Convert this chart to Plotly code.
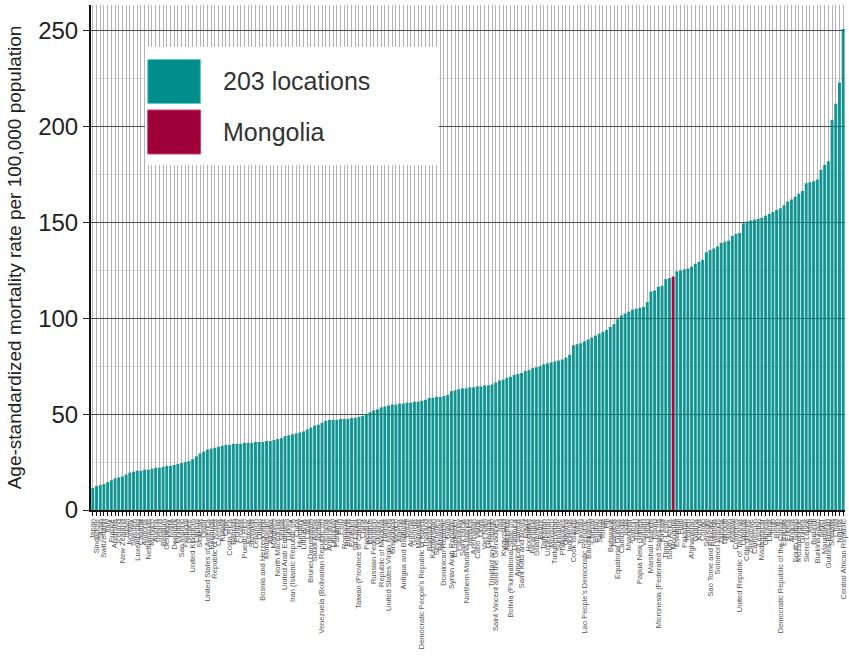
import plotly.graph_objects as go

# ---------------- data ----------------
locations = [
    "Japan", "Singapore", "Spain", "Switzerland", "Italy", "France", "Australia", "Iceland", "New Zealand", "Israel",
    "Norway", "Sweden", "Luxembourg", "Canada", "Andorra", "Netherlands", "Monaco", "Austria", "Ireland", "Belgium",
    "Germany", "Malta", "Denmark", "Finland", "San Marino", "Portugal", "Greece", "United Kingdom", "Cyprus", "Slovenia",
    "Qatar", "United States of America", "Bermuda", "Republic of Korea", "Czechia", "Kuwait", "Chile", "Costa Rica", "Bahrain", "Poland",
    "Croatia", "Puerto Rico", "Estonia", "Slovakia", "Lebanon", "Oman", "Bosnia and Herzegovina", "Montenegro", "Albania", "Maldives",
    "North Macedonia", "Serbia", "United Arab Emirates", "Turkey", "Iran (Islamic Republic of)", "Cuba", "Hungary", "Lithuania", "Latvia", "Brunei Darussalam",
    "Saudi Arabia", "Jordan", "Venezuela (Bolivarian Republic of)", "Colombia", "Argentina", "Uruguay", "Panama", "Peru", "Romania", "Bulgaria",
    "Ecuador", "Sri Lanka", "Taiwan (Province of China)", "China", "Palestine", "Belarus", "Russian Federation", "Ukraine", "Republic of Moldova", "Tunisia",
    "United States Virgin Islands", "Greenland", "Mexico", "Algeria", "Antigua and Barbuda", "Brazil", "Armenia", "Georgia", "Malaysia", "Democratic People's Republic of Korea",
    "Thailand", "Barbados", "Kazakhstan", "Seychelles", "Bahamas", "Dominican Republic", "Guam", "Syrian Arab Republic", "El Salvador", "Paraguay",
    "Saint Lucia", "Northern Mariana Islands", "Jamaica", "Azerbaijan", "Cabo Verde", "Libya", "Viet Nam", "Grenada", "Trinidad and Tobago", "Saint Vincent and the Grenadines",
    "Iraq", "Kyrgyzstan", "Mauritius", "Bolivia (Plurinational State of)", "Dominica", "American Samoa", "Saint Kitts and Nevis", "Egypt", "Honduras", "Nicaragua",
    "Guatemala", "Belize", "Tajikistan", "Uzbekistan", "Morocco", "Turkmenistan", "Suriname", "Philippines", "Guyana", "Indonesia",
    "Cook Islands", "Niue", "Tokelau", "Lao People's Democratic Republic", "Bangladesh", "Nepal", "Bhutan", "Samoa", "Tonga", "Fiji",
    "Botswana", "Namibia", "Equatorial Guinea", "Cambodia", "India", "Myanmar", "Gabon", "Tuvalu", "Papua New Guinea", "Vanuatu",
    "Palau", "Marshall Islands", "Nauru", "Micronesia (Federated States of)", "Kiribati", "Timor-Leste", "South Africa", "Mongolia", "Eswatini", "Haiti",
    "Pakistan", "Yemen", "Afghanistan", "Ghana", "Kenya", "Congo", "Senegal", "Sao Tome and Principe", "Rwanda", "Solomon Islands",
    "Zambia", "Djibouti", "Sudan", "Malawi", "Comoros", "United Republic of Tanzania", "Uganda", "Côte d'Ivoire", "Zimbabwe", "Cameroon",
    "Lesotho", "Madagascar", "Gambia", "Liberia", "Togo", "Benin", "Democratic Republic of the Congo", "Ethiopia", "Eritrea", "Angola",
    "South Sudan", "Mozambique", "Guinea", "Sierra Leone", "Mali", "Burundi", "Burkina Faso", "Niger", "Mauritania", "Guinea-Bissau",
    "Somalia", "Chad", "Nigeria", "Central African Republic",
]

rates = [
    11.5, 12.5, 13, 13.5, 14.5, 15.5, 16.5, 17, 17.5, 18.5,
    19.5, 20, 20.5, 20.5, 21, 21, 21.5, 22, 22, 22.5,
    23, 23, 23.5, 24, 24.5, 25, 25.5, 26.5, 28, 29.5,
    30.5, 31.5, 32, 32.5, 33, 33.5, 34, 34, 34.5, 34.5,
    34.5, 35, 35, 35, 35.5, 35.5, 35.5, 36, 36, 36.5,
    37, 37.5, 38.5, 39, 39.5, 40, 40.5, 41, 42, 43,
    44, 44.5, 45.5, 46.5, 47, 47, 47, 47.5, 47.5, 47.5,
    48, 48, 48.5, 49, 50, 51, 52, 52.5, 53.5, 54,
    54.5, 55, 55, 55.5, 55.5, 56, 56, 56.5, 56.5, 57,
    57.5, 58.5, 58.5, 59, 59, 59.5, 60, 62, 62.5, 63,
    63.5, 63.5, 64, 64, 64.5, 64.5, 65, 65, 65.5, 66.5,
    67.5, 68, 69, 69.5, 70.5, 71, 71.5, 72.5, 73, 74,
    74.5, 75, 76, 76.5, 77, 77.5, 78, 78.5, 79.5, 81,
    86, 86.5, 87, 88, 89, 90, 91, 92, 93, 94,
    95.5, 97, 99.5, 101.5, 102.5, 103.5, 104.5, 105, 105.5, 106,
    108.5, 114, 114.5, 116.5, 117, 120.5, 121, 121.8, 124.5, 125,
    125.5, 126, 127, 128.5, 129.5, 130.5, 134.5, 135.5, 136.5, 137.5,
    139.5, 140, 140.5, 143, 144, 144.5, 149.5, 150.5, 151, 151.5,
    152, 152.5, 153.5, 154.5, 155.5, 156.5, 157.5, 159, 161, 162,
    163.5, 165, 166.5, 170.5, 171, 171.5, 172.5, 177.5, 180, 182,
    203.5, 212, 223, 251,
]

highlight = "Mongolia"
legend_labels = ["203 locations", "Mongolia"]
y_ticks = [0, 50, 100, 150, 200, 250]
y_title = "Age-standardized mortality rate per 100,000 population"

# ---------------- styles ----------------
TEAL = "#008d8a"
CRIMSON = "#9e0038"
FONT = "Liberation Sans, Arial, Helvetica, sans-serif"

other_x = [l for l in locations if l != highlight]
other_y = [r for l, r in zip(locations, rates) if l != highlight]
hi_x = [l for l in locations if l == highlight]
hi_y = [r for l, r in zip(locations, rates) if l == highlight]

fig = go.Figure()
fig.add_trace(go.Bar(x=other_x, y=other_y, name=legend_labels[0],
                     marker=dict(color=TEAL, line=dict(width=0)), opacity=0.9,
                     showlegend=False))
fig.add_trace(go.Bar(x=hi_x, y=hi_y, name=legend_labels[1],
                     marker=dict(color=CRIMSON, line=dict(width=0)), opacity=0.95,
                     showlegend=False))

fig.update_layout(
    width=849, height=659,
    margin=dict(l=91, r=4, t=5, b=149),
    paper_bgcolor="white", plot_bgcolor="white",
    barmode="overlay", bargap=0.2,
    font=dict(family=FONT, color="#222"),
)

fig.update_xaxes(
    type="category", categoryorder="array", categoryarray=locations,
    tickmode="array", tickvals=locations, ticktext=locations,
    tickangle=-90, tickfont=dict(size=7.5, color="#555", family=FONT),
    ticks="outside", ticklen=4, tickwidth=1, tickcolor="#111",
    showgrid=True, gridcolor="#b3b3b3", gridwidth=1,
    showline=True, linecolor="#111", linewidth=2,
    automargin=False, range=[-0.5, len(locations) - 0.5],
)

fig.update_yaxes(
    range=[0, 263.5], tickmode="array", tickvals=y_ticks,
    tickfont=dict(size=24, color="#222", family=FONT),
    ticks="outside", ticklen=6, tickwidth=1, tickcolor="#222",
    showgrid=True, gridcolor="#4d4d4d", gridwidth=1,
    minor=dict(dtick=25, showgrid=True, gridcolor="#dcdcdc", gridwidth=1, ticks=""),
    showline=True, linecolor="#111", linewidth=2,
    zeroline=False, automargin=False,
    title=dict(text=y_title, font=dict(size=19, color="#222", family=FONT), standoff=12),
)

# custom legend (large swatches)
fig.add_shape(type="rect", xref="paper", yref="paper",
              x0=0.0716, x1=0.4614, y0=0.683, y1=0.917,
              fillcolor="white", line=dict(width=0), layer="above")
fig.add_shape(type="rect", xref="paper", yref="paper",
              x0=0.0753, x1=0.1451, y0=0.805, y1=0.892,
              fillcolor=TEAL, line=dict(width=1, color="#5cc"), layer="above")
fig.add_shape(type="rect", xref="paper", yref="paper",
              x0=0.0753, x1=0.1451, y0=0.705, y1=0.792,
              fillcolor=CRIMSON, line=dict(width=1, color="#c36"), layer="above")
fig.add_annotation(xref="paper", yref="paper", x=0.173, y=0.849,
                   text=legend_labels[0], showarrow=False, xanchor="left", yanchor="middle",
                   font=dict(size=25, color="#333", family=FONT))
fig.add_annotation(xref="paper", yref="paper", x=0.173, y=0.749,
                   text=legend_labels[1], showarrow=False, xanchor="left", yanchor="middle",
                   font=dict(size=25, color="#333", family=FONT))

fig.write_html("out.html", config={"displayModeBar": False},
               post_script="document.body.style.margin='0';document.body.style.overflow='hidden';")
